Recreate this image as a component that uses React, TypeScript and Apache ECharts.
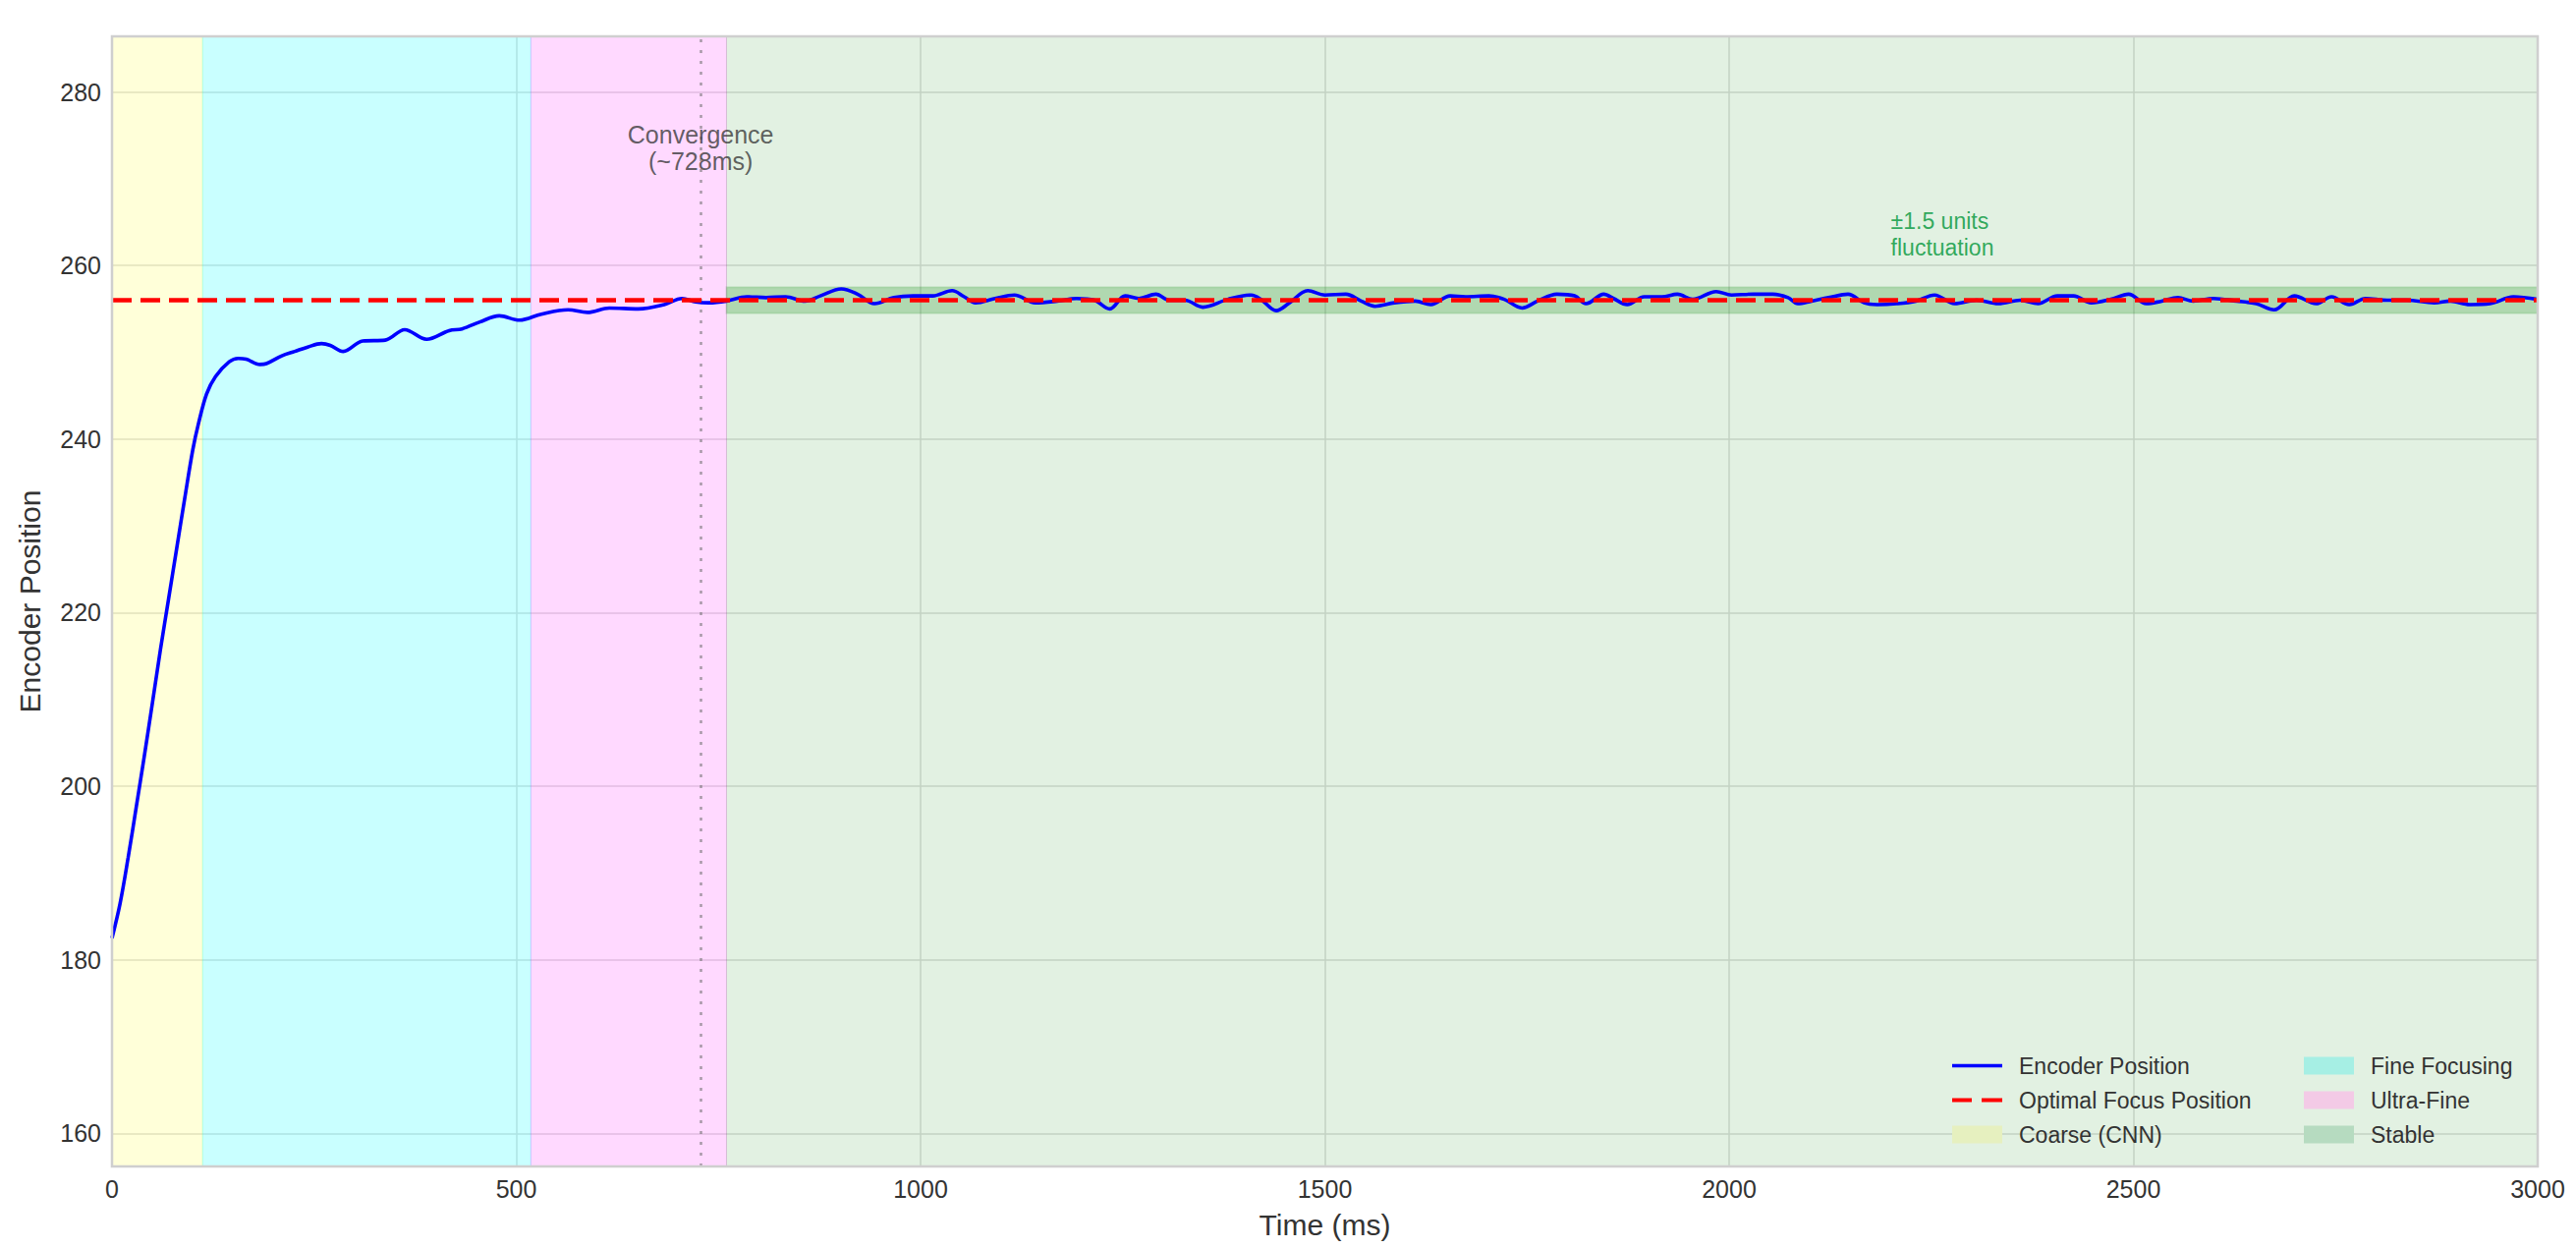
import React, { useEffect, useRef } from "react";
import * as echarts from "echarts";

const timeMs = [0,10,20,30,40,50,60,70,80,90,100,107,117,128,145,156,166,183,191,210,226,242,259,270,286,310,338,362,389,417,433,455,479,504,531,564,588,615,651,683,705,722,738,
760,785,809,833,857,876,902,922,943,967,991,1015,1039,1054,1068,1092,1116,1142,1169,1193,1215,1234,1253,1270,1291,1308,1327,1349,1380,1409,1421,1440,1455,1479,1500,
1526,1545,1562,1586,1612,1631,1655,1674,1703,1722,1744,1763,1787,1809,1823,1845,1857,1874,1895,1917,1936,1955,1984,2003,2030,2054,2073,2085,2102,2123,2147,2167,2183,2207,2231,2254,
2279,2306,2333,2360,2382,2406,2426,2448,2472,2494,2516,2535,2555,2574,2599,2628,2652,2674,2699,2726,2745,2767,2787,2814,2838,2872,2892,2916,2941,2970,3000];

const encoderPos = [182.5,186.5,191.8,197.6,203.5,209.6,215.8,221.6,227.4,233.2,238.8,241.8,245.2,247.2,248.9,249.3,249.2,248.6,248.7,249.6,250.1,250.6,251.0,250.8,250.1,251.3,251.4,252.6,251.5,252.5,252.7,253.5,254.2,253.7,254.4,254.9,254.6,255.1,255.0,255.5,256.2,255.8,255.7,
255.9,256.4,256.3,256.4,255.9,256.5,257.3,256.7,255.6,256.3,256.5,256.5,257.1,256.4,255.7,256.2,256.6,255.7,255.9,256.2,256.0,255.0,256.5,256.2,256.7,256.0,256.0,255.2,256.1,256.6,256.1,254.8,255.6,257.1,256.6,
256.7,255.9,255.3,255.7,255.9,255.5,256.5,256.4,256.5,256.1,255.1,255.9,256.7,256.5,255.6,256.7,256.2,255.5,256.4,256.4,256.7,256.1,257.0,256.6,256.7,256.7,256.3,255.6,255.9,256.3,256.7,255.7,255.5,255.6,255.9,256.6,
255.6,256.0,255.6,256.0,255.6,256.5,256.5,255.7,256.1,256.7,255.6,255.9,256.3,255.9,256.2,255.9,255.6,254.9,256.5,255.6,256.4,255.5,256.2,256.0,256.0,255.7,255.9,255.5,255.6,256.4,256.1];

const optimalFocus = 256;
const fluctuation = 1.5;
const convergenceMs = 728;

const phaseNames = ["Coarse (CNN)", "Fine Focusing", "Ultra-Fine", "Stable"];
const phaseStart = [0, 112, 518, 760];
const phaseEnd = [112, 518, 760, 3000];
const phaseFill = ["rgba(255,255,0,0.15)", "rgba(0,255,255,0.21)", "rgba(255,0,255,0.15)", "rgba(0,128,0,0.115)"];
const phaseLegendColor = ["#e6f0bf", "#a6efe4", "#f3cae6", "#b6dbc0"];

const xTicks = { min: 0, max: 3000, step: 500 };
const yRange = { min: 156.2, max: 286.4 };

const FONT = "Liberation Sans, Arial, Helvetica, sans-serif";
const GRID = { left: 114, top: 37, width: 2469, height: 1150 };

// legend icons (51 x 18 boxes, tiny corner dots keep the bounding box)
const CORNERS = " M0,0h0.01v0.01h-0.01z M51,18h-0.01v-0.01h0.01z";
const SOLID_ICON = "path://M0,7.2h51v3.6h-51z" + CORNERS;
const DASH_ICON = "path://M0,7h20v4h-20z M30,7h21v4h-21z" + CORNERS;

export default function App() {
  const ref = useRef<HTMLDivElement>(null);
  useEffect(() => {
    if (!ref.current) return;
    const chart = echarts.init(ref.current, undefined, { renderer: "svg" });
    const lineData = timeMs.map((t, i) => [t, encoderPos[i]]);

    const phaseSeries = phaseNames.map((name, i) => ({
      name,
      type: "line",
      data: [],
      z: 1,
      itemStyle: { color: phaseLegendColor[i] },
      markArea: {
        silent: true,
        itemStyle: { color: phaseFill[i], borderColor: phaseFill[i], borderWidth: 1 },
        data: [[{ xAxis: phaseStart[i] }, { xAxis: phaseEnd[i] }]],
      },
    }));

    const legendCommon = {
      orient: "vertical",
      top: 1073,
      itemWidth: 51,
      itemHeight: 18,
      itemGap: 12,
      padding: 0,
      textStyle: { fontSize: 23, color: "#333", fontFamily: FONT, padding: [0, 0, 0, 12] },
    };

    const option: any = {
      animation: false,
      textStyle: { fontFamily: FONT },
      grid: { left: GRID.left, top: GRID.top, width: GRID.width, height: GRID.height, containLabel: false },
      xAxis: {
        type: "value",
        min: xTicks.min,
        max: xTicks.max,
        interval: xTicks.step,
        name: "Time (ms)",
        nameLocation: "middle",
        nameGap: 44,
        nameTextStyle: { fontSize: 30, color: "#333", fontFamily: FONT },
        axisLine: { show: false },
        axisTick: { show: false },
        axisLabel: { fontSize: 25, color: "#333", margin: 10, fontFamily: FONT, formatter: (v: number) => String(v) },
        splitLine: { show: true, lineStyle: { color: "#dcdcdc", width: 1.5 } },
      },
      yAxis: {
        type: "value",
        min: yRange.min,
        max: yRange.max,
        splitNumber: 7,
        name: "Encoder Position",
        nameLocation: "middle",
        nameGap: 69,
        nameRotate: 90,
        nameTextStyle: { fontSize: 30, color: "#333", fontFamily: FONT },
        axisLine: { show: false },
        axisTick: { show: false },
        axisLabel: { fontSize: 25, color: "#333", margin: 11, showMinLabel: false, showMaxLabel: false, fontFamily: FONT },
        splitLine: { show: true, lineStyle: { color: "#dcdcdc", width: 1.5 } },
      },
      legend: [
        {
          ...legendCommon,
          left: 1987,
          data: [
            { name: "Encoder Position", icon: SOLID_ICON },
            { name: "Optimal Focus Position", icon: DASH_ICON },
            { name: "Coarse (CNN)", icon: "rect" },
          ],
        },
        {
          ...legendCommon,
          left: 2345,
          data: [
            { name: "Fine Focusing", icon: "rect" },
            { name: "Ultra-Fine", icon: "rect" },
            { name: "Stable", icon: "rect" },
          ],
        },
      ],
      series: [
        ...phaseSeries,
        {
          name: "band",
          type: "line",
          data: [],
          z: 2,
          markArea: {
            silent: true,
            itemStyle: { color: "rgba(0,128,0,0.22)", borderColor: "rgba(0,128,0,0.12)", borderWidth: 2 },
            data: [[{ xAxis: phaseStart[3], yAxis: optimalFocus - fluctuation }, { xAxis: phaseEnd[3], yAxis: optimalFocus + fluctuation }]],
          },
        },
        {
          name: "Encoder Position",
          type: "line",
          data: lineData,
          symbol: "none",
          smooth: 0.35,
          z: 5,
          color: "#0000ff",
          lineStyle: { color: "#0000ff", width: 3.6 },
        },
        {
          name: "Optimal Focus Position",
          type: "line",
          data: [[xTicks.min, optimalFocus], [xTicks.max, optimalFocus]],
          symbol: "none",
          z: 6,
          color: "#ff0000",
          lineStyle: { color: "#ff0000", width: 4.5, type: [20, 9] },
        },
        {
          name: "conv",
          type: "line",
          data: [],
          z: 7,
          markLine: {
            silent: true,
            symbol: "none",
            label: { show: false },
            lineStyle: { color: "rgba(110,110,110,0.6)", width: 2.5, type: [3, 8] },
            data: [{ xAxis: convergenceMs }],
          },
        },
        {
          name: "annotations",
          type: "scatter",
          symbolSize: 0,
          silent: true,
          z: 8,
          data: [
            {
              value: [convergenceMs, 273.6],
              label: {
                show: true,
                position: "inside",
                formatter: "Convergence\n(~728ms)",
                fontSize: 25,
                lineHeight: 27,
                color: "#3a3a3a",
                align: "center",
                verticalAlign: "middle",
                fontFamily: FONT,
              },
            },
            {
              value: [2200, 263.6],
              label: {
                show: true,
                position: "right",
                distance: 0,
                formatter: "±1.5 units\nfluctuation",
                fontSize: 23,
                lineHeight: 27,
                color: "#009638",
                align: "left",
                verticalAlign: "middle",
                fontFamily: FONT,
              },
            },
          ],
        },
      ],
      graphic: [
        {
          type: "rect",
          silent: true,
          z: 100,
          shape: { x: GRID.left, y: GRID.top, width: GRID.width, height: GRID.height },
          style: { fill: "none", stroke: "#cfcfcf", lineWidth: 2.5 },
        },
      ],
    };
    chart.setOption(option);
    return () => chart.dispose();
  }, []);
  return (
    <div
      ref={ref}
      style={{ position: "fixed", left: 0, top: 0, width: 2622, height: 1270, background: "#ffffff" }}
    />
  );
}
